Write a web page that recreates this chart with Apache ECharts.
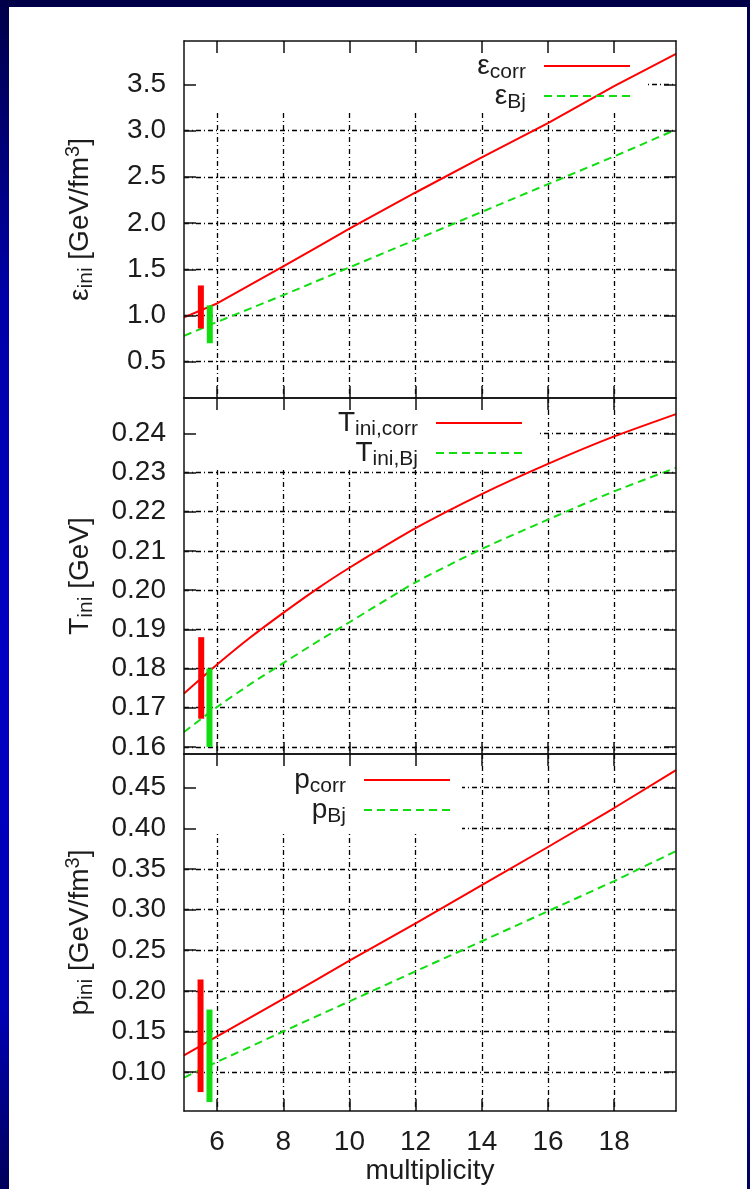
<!DOCTYPE html>
<html>
<head>
<meta charset="utf-8">
<script src="https://cdn.jsdelivr.net/npm/echarts@6/dist/echarts.min.js"></script>
<style>
html, body { margin: 0; padding: 0; }
body {
  width: 750px; height: 1189px; overflow: hidden; position: relative;
  background: linear-gradient(to bottom, #000048 0%, #0000a8 25%, #0000c4 55%, #0000b4 85%, #00005a 100%);
}
#paper { position: absolute; left: 9px; top: 7px; width: 738px; height: 1182px; background: #ffffff; }
#chart { position: absolute; left: 0; top: 0; width: 750px; height: 1189px; }
</style>
</head>
<body>
<div id="paper"></div>
<div id="chart"></div>
<script>
// ---- data ----
const xRange = [5, 19.87];
const xTicks = [6, 8, 10, 12, 14, 16, 18];
const multiplicity = [5, 6, 7, 8, 9, 10, 12, 14, 16, 18, 19.87];

const epsCorr = [0.98, 1.13, 1.33, 1.53, 1.735, 1.94, 2.33, 2.71, 3.08, 3.48, 3.83];
const epsBj   = [0.78, 0.93, 1.075, 1.22, 1.37, 1.52, 1.82, 2.12, 2.42, 2.72, 3.01];
const tCorr   = [0.1736, 0.1810, 0.1879, 0.1942, 0.2002, 0.2057, 0.2158, 0.2245, 0.2322, 0.2392, 0.2449];
const tBj     = [0.1638, 0.1702, 0.1760, 0.1814, 0.1867, 0.1918, 0.2020, 0.2105, 0.2180, 0.2252, 0.2312];
const pCorr   = [0.1206, 0.144, 0.167, 0.190, 0.2135, 0.237, 0.283, 0.330, 0.377, 0.425, 0.4716];
const pBj     = [0.0931, 0.1125, 0.131, 0.150, 0.1685, 0.187, 0.224, 0.261, 0.298, 0.335, 0.372];

// error bars: [x, low, high]
const epsErrCorr = [5.51, 0.86, 1.325];
const epsErrBj   = [5.78, 0.70, 1.11];
const tErrCorr   = [5.52, 0.1672, 0.188];
const tErrBj     = [5.77, 0.160, 0.180];
const pErrCorr   = [5.50, 0.0753, 0.2139];
const pErrBj     = [5.77, 0.063, 0.1769];

const epsTicks = [0.5, 1.0, 1.5, 2.0, 2.5, 3.0, 3.5];
const tTicks   = [0.16, 0.17, 0.18, 0.19, 0.20, 0.21, 0.22, 0.23, 0.24];
const pTicks   = [0.10, 0.15, 0.20, 0.25, 0.30, 0.35, 0.40, 0.45];

const epsRange = [0.108, 3.968];
const tRange   = [0.1582, 0.249];
const pRange   = [0.052, 0.4915];

// ---- styling ----
const FONT = '"Liberation Sans", Arial, Helvetica, sans-serif';
const TXT = '#1c1c1c';
const RED = '#ff0000';
const GREEN = '#11dd11';
const richStyles = {
  m:   { fontFamily: FONT, fontSize: 28, lineHeight: 34, color: TXT },
  sub: { fontFamily: FONT, fontSize: 21, lineHeight: 16, verticalAlign: 'bottom', color: TXT },
  sup: { fontFamily: FONT, fontSize: 20, lineHeight: 14, verticalAlign: 'top', color: TXT },
  s:   { width: 13, fontSize: 10 }
};

const grids = [
  { left: 184, top: 41,  width: 492, height: 357 },
  { left: 184, top: 398, width: 492, height: 356 },
  { left: 184, top: 754, width: 492, height: 357 }
].map(g => Object.assign({ outerBoundsMode: 'none', containLabel: false, show: false }, g));

const panels = [
  { range: epsRange, ticks: epsTicks, dec: 1,
    name: '{m|ε}{sub|ini}{m| [GeV/fm}{sup|3}{m|]}' },
  { range: tRange, ticks: tTicks, dec: 2,
    name: '{m|T}{sub|ini}{m| [GeV]}' },
  { range: pRange, ticks: pTicks, dec: 2,
    name: '{m|p}{sub|ini}{m| [GeV/fm}{sup|3}{m|]}' }
];

const frameLine = { show: true, onZero: false, lineStyle: { color: '#111', width: 1.5 } };
const gridLine = { show: true, lineStyle: { color: '#000', width: 1.3, type: [5, 3, 1, 3] } };

const xAxes = [], yAxes = [];
panels.forEach((p, i) => {
  xAxes.push({ type: 'value', gridIndex: i, min: xRange[0], max: xRange[1], position: 'bottom', z: 0,
    axisLine: { show: false }, axisTick: { show: false, customValues: xTicks },
    axisLabel: { show: false }, splitLine: gridLine });
  xAxes.push({ type: 'value', gridIndex: i, min: xRange[0], max: xRange[1], position: 'bottom', z: 3,
    axisLine: frameLine,
    axisTick: { show: true, inside: true, length: 12, customValues: xTicks, lineStyle: { color: '#111', width: 1.5 } },
    axisLabel: { show: i === 2, customValues: xTicks, margin: 17, fontSize: 28, fontFamily: FONT, color: TXT },
    splitLine: { show: false },
    name: i === 2 ? 'multiplicity' : '', nameLocation: 'middle', nameGap: 44,
    nameTextStyle: { fontSize: 28, fontFamily: FONT, color: TXT } });
  xAxes.push({ type: 'value', gridIndex: i, min: xRange[0], max: xRange[1], position: 'top', z: 3,
    axisLine: frameLine,
    axisTick: { show: true, inside: true, length: 12, customValues: xTicks, lineStyle: { color: '#111', width: 1.5 } },
    axisLabel: { show: false }, splitLine: { show: false } });

  yAxes.push({ type: 'value', gridIndex: i, min: p.range[0], max: p.range[1], position: 'left', z: 0,
    axisLine: { show: false }, axisTick: { show: false, customValues: p.ticks },
    axisLabel: { show: false }, splitLine: gridLine });
  yAxes.push({ type: 'value', gridIndex: i, min: p.range[0], max: p.range[1], position: 'left', z: 3,
    axisLine: frameLine,
    axisTick: { show: true, inside: true, length: 12, customValues: p.ticks, lineStyle: { color: '#111', width: 1.5 } },
    axisLabel: { show: true, customValues: p.ticks, margin: 18, fontSize: 28, fontFamily: FONT, color: TXT,
      formatter: v => Number(v).toFixed(p.dec) },
    splitLine: { show: false },
    name: p.name, nameLocation: 'middle', nameRotate: 90, nameGap: 87,
    nameTextStyle: { fontSize: 28, fontFamily: FONT, color: TXT, rich: richStyles } });
  yAxes.push({ type: 'value', gridIndex: i, min: p.range[0], max: p.range[1], position: 'right', z: 3,
    axisLine: frameLine,
    axisTick: { show: true, inside: true, length: 12, customValues: p.ticks, lineStyle: { color: '#111', width: 1.5 } },
    axisLabel: { show: false }, splitLine: { show: false } });
});

function zip(xs, ys) { return xs.map((x, k) => [x, ys[k]]); }
function curve(name, panel, ys, color, dashed, smooth) {
  return { type: 'line', name, xAxisIndex: panel * 3, yAxisIndex: panel * 3,
    data: zip(multiplicity, ys), symbol: 'none', showSymbol: false, smooth: smooth || false,
    lineStyle: { color, width: 2, type: dashed ? [8, 5] : 'solid' }, itemStyle: { color },
    z: 2, silent: true };
}
function errBar(panel, e, color) {
  return { type: 'line', xAxisIndex: panel * 3, yAxisIndex: panel * 3,
    data: [[e[0], e[1]], [e[0], e[2]]], symbol: 'none', showSymbol: false,
    lineStyle: { color, width: 6 }, z: 2, silent: true };
}

const series = [
  curve('eps_corr', 0, epsCorr, RED, false),
  curve('eps_Bj', 0, epsBj, GREEN, true),
  curve('T_corr', 1, tCorr, RED, false, 0.2),
  curve('T_Bj', 1, tBj, GREEN, true, 0.2),
  curve('p_corr', 2, pCorr, RED, false),
  curve('p_Bj', 2, pBj, GREEN, true),
  errBar(0, epsErrCorr, RED), errBar(0, epsErrBj, GREEN),
  errBar(1, tErrCorr, RED), errBar(1, tErrBj, GREEN),
  errBar(2, pErrCorr, RED), errBar(2, pErrBj, GREEN)
];

const legendText = {
  eps_corr: '{m|ε}{sub|corr}{s| }',
  eps_Bj: '{m|ε}{sub|Bj}{s| }',
  T_corr: '{m|T}{sub|ini,corr}{s| }',
  T_Bj: '{m|T}{sub|ini,Bj}{s| }',
  p_corr: '{m|p}{sub|corr}{s| }',
  p_Bj: '{m|p}{sub|Bj}{s| }'
};
function legend(name, right, top) {
  return { data: [name], orient: 'vertical', right, top, padding: 0, align: 'right',
    itemWidth: 86, itemHeight: 2, selectedMode: false, z: 4,
    itemStyle: { opacity: 0 },
    formatter: n => legendText[n],
    textStyle: { fontFamily: FONT, fontSize: 28, color: TXT, rich: richStyles } };
}
const legends = [
  legend('eps_corr', 119, 52), legend('eps_Bj', 119, 82),
  legend('T_corr', 227, 409), legend('T_Bj', 227, 439),
  legend('p_corr', 299, 766), legend('p_Bj', 299, 796)
];

const keyBoxes = [
  { x: 185, y: 42, w: 463, h: 70 },
  { x: 185, y: 399, w: 353, h: 70 },
  { x: 185, y: 755, w: 277, h: 76 }
].map(b => ({ type: 'rect', z: 1, silent: true, shape: { x: b.x, y: b.y, width: b.w, height: b.h },
  style: { fill: '#ffffff' } }));

const chart = echarts.init(document.getElementById('chart'), null, { renderer: 'canvas' });
chart.setOption({
  backgroundColor: 'transparent',
  animation: false,
  grid: grids,
  xAxis: xAxes,
  yAxis: yAxes,
  legend: legends,
  graphic: keyBoxes,
  series
});
</script>
</body>
</html>
